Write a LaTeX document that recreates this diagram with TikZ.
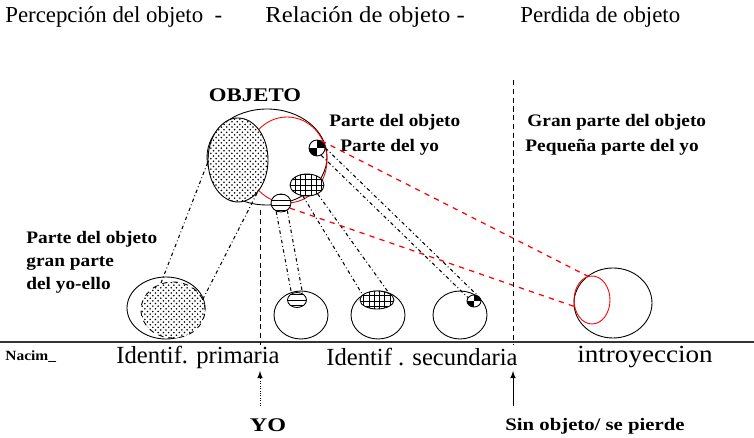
\documentclass[tikz,border=0pt]{standalone}
\usepackage{fontspec}
\setmainfont{Liberation Serif}
\usetikzlibrary{patterns,shapes.geometric}

\tikzset{
  ring/.style={draw, ellipse, inner sep=0pt, line width=0.5pt},
  stipple/.style={ring, preaction={fill=white}, pattern=crosshatch dots},
  checker/.style={ring, fill=white, path picture={
      \fill[black] (path picture bounding box.center) rectangle (path picture bounding box.north east);
      \fill[black] (path picture bounding box.center) rectangle (path picture bounding box.south west);}},
  link/.style={dash pattern=on 2pt off 1.5pt on 0.5pt off 1.5pt, line width=0.6pt},
  redlink/.style={red, dash pattern=on 3pt off 3pt, line width=0.7pt},
  lbl/.style={font=\bfseries\fontsize{10}{13}\selectfont, xscale=1.1, inner sep=0pt, anchor=west},
  stage/.style={font=\fontsize{13}{15}\selectfont, inner sep=0pt},
}

\begin{document}
\begin{tikzpicture}[x=0.02cm,y=-0.02cm]
\useasboundingbox (0,0) rectangle (754,438);

% titles
\node[stage, anchor=west] (t1) at (5,17) {Percepción del objeto \ -};
\node[stage, anchor=west, xscale=1.08] (t2) at (265,17) {Relación de objeto -};
\node[stage, anchor=west] (t3) at (520,17) {Perdida de objeto};

% objeto
\node[font=\bfseries\fontsize{11}{13}\selectfont, xscale=1.18] (objlbl) at (255,95) {OBJETO};
\node[ring, minimum width=2.4cm, minimum height=1.92cm] (obj) at (267,157) {};
\node[ring, draw=red, minimum width=1.6cm, minimum height=1.72cm] (redin) at (287,160) {};
\node[stipple, minimum width=1.2cm, minimum height=1.68cm] (stA) at (238,160) {};
\node[checker, minimum width=0.32cm, minimum height=0.32cm] (chA) at (317,148) {};
\node[ring, preaction={fill=white}, pattern=grid, minimum width=0.68cm, minimum height=0.44cm] (grA) at (307,185) {};
\node[ring, preaction={fill=white}, pattern=horizontal lines, minimum width=0.4cm, minimum height=0.36cm] (hzA) at (281,203) {};

\node[lbl] (po1) at (329,122) {Parte del objeto};
\node[lbl] (py1) at (340,147) {Parte del yo};
\node[lbl] (po2) at (527,122) {Gran parte del objeto};
\node[lbl] (py2) at (525,147) {Pequeña parte del yo};
\node[lbl, align=left] (po3) at (26,262) {Parte del objeto\\gran parte\\del yo-ello};

% abajo
\node[ring, minimum width=1.56cm, minimum height=1.24cm] (outL) at (166,308) {};
\node[stipple, dashed, minimum width=1.28cm, minimum height=1.12cm] (stB) at (173,310) {};
\node[ring, minimum width=1.08cm, minimum height=0.96cm] (b1) at (301,315) {};
\node[ring, preaction={fill=white}, pattern=horizontal lines, minimum width=0.38cm, minimum height=0.3cm] (hzB) at (297,300) {};
\node[ring, minimum width=1.08cm, minimum height=0.96cm] (b2) at (378,315) {};
\node[ring, preaction={fill=white}, pattern=grid, minimum width=0.68cm, minimum height=0.36cm] (grB) at (377,300) {};
\node[ring, minimum width=1.08cm, minimum height=0.96cm] (b3) at (460,315) {};
\node[checker, minimum width=0.28cm, minimum height=0.24cm] (chB) at (474,301) {};
\node[ring, minimum width=1.56cm, minimum height=1.4cm] (outR) at (613,303) {};
\node[ring, draw=red, minimum width=0.72cm, minimum height=0.96cm] (redR) at (592,300) {};

\draw[link] (stA.185) -- (stB.115);
\draw[link] (stA.-60) -- (stB.20);
\draw[link] (hzA.-120) -- (hzB.130);
\draw[link] (hzA.-50) -- (hzB.50);
\draw[link] (grA.-110) -- (grB.160);
\draw[link] (grA.-40) -- (grB.30);
\draw[link] (chA.0) -- (chB.60);
\draw[link] (chA.-60) -- (chB.150);
\draw[redlink] (chA.60) -- (redR.100);
\draw[redlink] (hzA.-30) -- (redR.200);

% linea de tiempo
\coordinate (l0) at (0,342);
\coordinate (l1) at (754,342);
\draw[line width=0.8pt, black!80] (l0) -- (l1);
\coordinate (v1a) at (260,210);
\coordinate (v1b) at (260,345);
\coordinate (v2a) at (513,80);
\coordinate (v2b) at (513,345);
\draw[densely dashed] (v1a) -- (v1b);
\draw[densely dashed] (v2a) -- (v2b);

\node[font=\bfseries\fontsize{8}{10}\selectfont, xscale=1.1, anchor=west, inner sep=0pt] (nac) at (5,357) {Nacim\_};
\node[stage, font=\fontsize{14}{16}\selectfont] (id1) at (198,357) {Identif. primaria};
\node[stage, font=\fontsize{14}{16}\selectfont] (id2) at (422,357) {Identif . secundaria};
\node[stage, font=\fontsize{14}{16}\selectfont, xscale=1.1] (intro) at (645,357) {introyeccion};

\node[font=\bfseries\fontsize{11}{13}\selectfont, xscale=1.25] (yo) at (268,425) {YO};
\node[font=\bfseries\fontsize{10}{12}\selectfont, xscale=1.18] (sin) at (595,426) {Sin objeto/ se pierde};
\coordinate (a1a) at (260,406);
\coordinate (a1b) at (260,371);
\coordinate (a2a) at (513,406);
\coordinate (a2b) at (513,371);
\draw[densely dotted, -latex] (a1a) -- (a1b);
\draw[-latex] (a2a) -- (a2b);
\end{tikzpicture}
\end{document}
